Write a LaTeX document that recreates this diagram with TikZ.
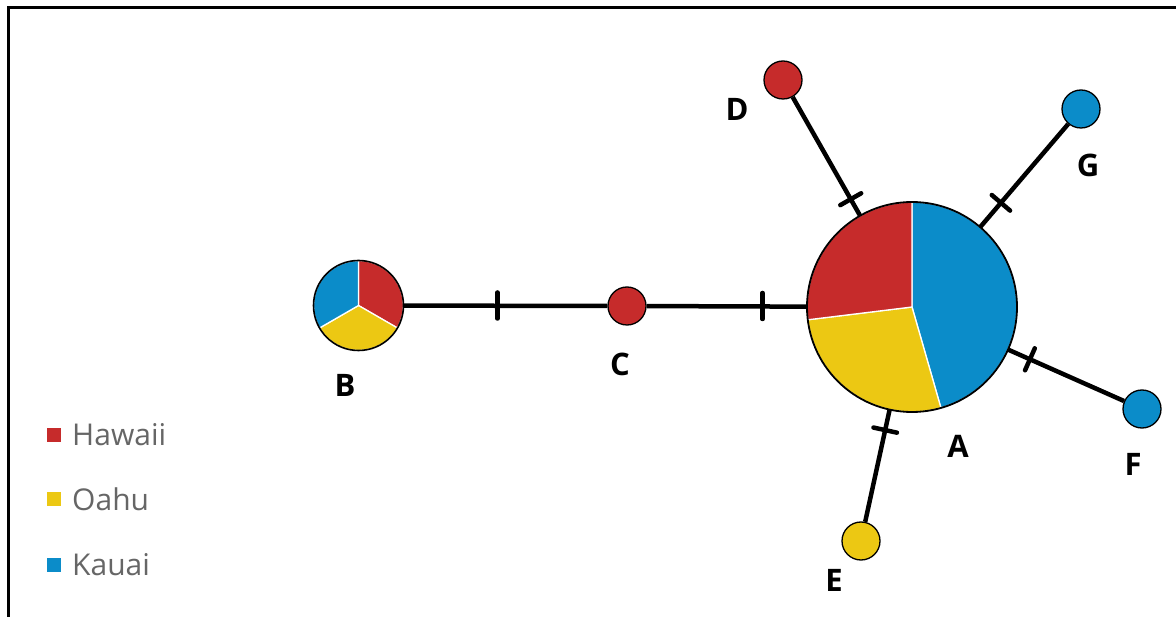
\documentclass[tikz,border=0pt]{standalone}
\usepackage{fontspec}
\setmainfont{Open Sans}
\usetikzlibrary{calc}
\definecolor{hred}{HTML}{C62B2B}
\definecolor{hyel}{HTML}{ECC813}
\definecolor{hblu}{HTML}{0B8CC9}
\definecolor{lgray}{HTML}{666666}
\tikzset{
  hap/.style={circle, inner sep=0pt, minimum size=38pt, draw=black, line width=1.3pt},
  bighap/.style={circle, inner sep=0pt},
  link/.style={line width=4.5pt, draw=black},
  tickmark/.style={line width=4.5pt, draw=black, line cap=round},
  lab/.style={font=\fontsize{31}{36}\selectfont\bfseries, text=black, inner sep=0pt},
  legtext/.style={font=\fontsize{30}{36}\selectfont, text=lgray, inner sep=0pt, anchor=west},
  legsq/.style={inner sep=0pt, minimum size=13.5pt},
  slice/.style={draw=white, line width=1.3pt},
  frame/.style={line width=3pt, draw=black}
}
\begin{document}
\begin{tikzpicture}[x=1pt,y=1pt]
\useasboundingbox (0,0) rectangle (1176,-617);
% frame (top and left)
\draw[frame] (1176,-7.5) -- (8.5,-7.5) -- (8.5,-617);

% big haplotype A
\node[bighap, minimum size=210pt] (A) at (912,-307) {};
\fill[hblu, slice] (A.center) -- ++(90:105) arc[start angle=90, end angle=-74, radius=105] -- cycle;
\fill[hyel, slice] (A.center) -- ++(-74:105) arc[start angle=-74, end angle=-173, radius=105] -- cycle;
\fill[hred, slice] (A.center) -- ++(-173:105) arc[start angle=-173, end angle=-270, radius=105] -- cycle;
\draw[line width=1.8pt] (A.center) circle[radius=105];

% haplotype B
\node[bighap, minimum size=90pt] (B) at (358.5,-305.5) {};
\fill[hred, slice] (B.center) -- ++(90:45) arc[start angle=90, end angle=-30, radius=45] -- cycle;
\fill[hyel, slice] (B.center) -- ++(-30:45) arc[start angle=-30, end angle=-150, radius=45] -- cycle;
\fill[hblu, slice] (B.center) -- ++(-150:45) arc[start angle=-150, end angle=-270, radius=45] -- cycle;
\draw[line width=1.6pt] (B.center) circle[radius=45];

% small haplotypes
\node[hap, fill=hred] (C) at (627,-306) {};
\node[hap, fill=hred] (D) at (783,-80) {};
\node[hap, fill=hblu] (G) at (1081,-109) {};
\node[hap, fill=hblu] (F) at (1142,-409) {};
\node[hap, fill=hyel] (E) at (861,-541) {};

% connectors
\draw[link] (B) -- (C);
\draw[link] (C) -- (A);
\draw[link] (A) -- (D);
\draw[link] (A) -- (G);
\draw[link] (A) -- (F);
\draw[link] (A) -- (E);

% ticks
\coordinate (tBC) at (497.5,-305.5);
\coordinate (tCA) at (762.5,-306);
\coordinate (tD) at ($(A.center)!124pt!(D.center)$);
\coordinate (tG) at ($(A.center)!137pt!(G.center)$);
\coordinate (tF) at ($(A.center)!129pt!(F.center)$);
\coordinate (tE) at ($(A.center)!126pt!(E.center)$);
\draw[tickmark] ($(tBC)+(0,13)$) -- ($(tBC)+(0,-13)$);
\draw[tickmark] ($(tCA)+(0,13)$) -- ($(tCA)+(0,-13)$);
\draw[tickmark] ($(tD)!12pt!90:(D.center)$) -- ($(tD)!12pt!-90:(D.center)$);
\draw[tickmark] ($(tG)!12pt!90:(G.center)$) -- ($(tG)!12pt!-90:(G.center)$);
\draw[tickmark] ($(tF)!12pt!90:(F.center)$) -- ($(tF)!12pt!-90:(F.center)$);
\draw[tickmark] ($(tE)!12pt!90:(E.center)$) -- ($(tE)!12pt!-90:(E.center)$);

% labels
\node[lab] (lA) at (958,-446) {A};
\node[lab] (lB) at (345,-385) {B};
\node[lab] (lC) at (620,-364) {C};
\node[lab] (lD) at (737,-109) {D};
\node[lab] (lE) at (834,-580) {E};
\node[lab] (lF) at (1133,-464) {F};
\node[lab] (lG) at (1088,-165) {G};

% legend
\node[legsq, fill=hred] (sqH) at (54,-435) {};
\node[legsq, fill=hyel] (sqO) at (54,-499) {};
\node[legsq, fill=hblu] (sqK) at (54,-565) {};
\node[legtext] (tH) at (72,-435) {Hawaii};
\node[legtext] (tO) at (72,-499) {Oahu};
\node[legtext] (tK) at (72,-565) {Kauai};
\end{tikzpicture}
\end{document}
